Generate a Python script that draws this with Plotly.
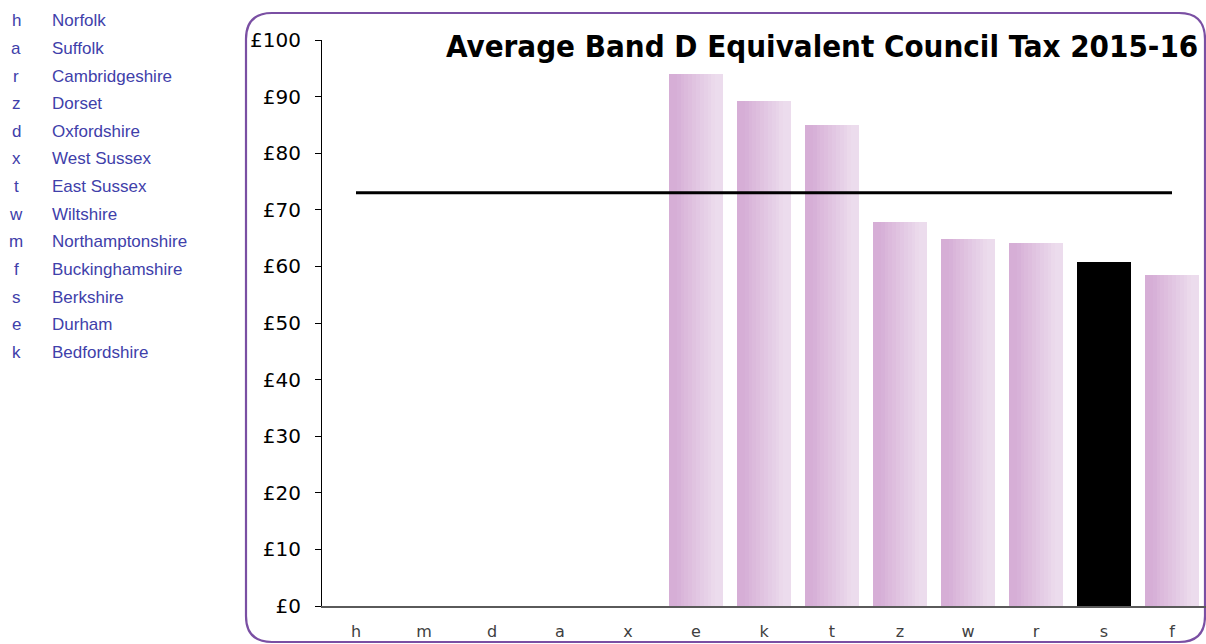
import plotly.graph_objects as go

# ---------------- data ----------------
codes = ["h", "a", "r", "z", "d", "x", "t", "w", "m", "f", "s", "e", "k"]
counties = ["Norfolk", "Suffolk", "Cambridgeshire", "Dorset", "Oxfordshire",
            "West Sussex", "East Sussex", "Wiltshire", "Northamptonshire",
            "Buckinghamshire", "Berkshire", "Durham", "Bedfordshire"]

categories = ["h", "m", "d", "a", "x", "e", "k", "t", "z", "w", "r", "s", "f"]
values = [None, None, None, None, None, 94.0, 89.3, 85.0, 67.8, 64.8, 64.2, 60.8, 58.5]
average = 73.0
highlight = "s"
y_ticks = [0, 10, 20, 30, 40, 50, 60, 70, 80, 90, 100]
title_text = "Average Band D Equivalent Council Tax 2015-16"

# ---------------- layout geometry ----------------
W, H = 1206, 644
L, R, T, B = 322, 0, 40, 38
PW, PH = W - L - R, H - T - B


def px(xp):
    return (xp - L) / PW


def py(yp):
    return 1 - (yp - T) / PH


fig = go.Figure()

# gradient bars built from thin overlaid slices
bar_w = 0.79
n_slices = 14
c_left = (214, 174, 214)
c_right = (236, 220, 237)
for i in range(n_slices):
    t = i / (n_slices - 1)
    tt = min(1.0, max(0.0, (t - 0.1) / 0.8))
    c = tuple(round(c_left[k] + (c_right[k] - c_left[k]) * tt) for k in range(3))
    col = "rgb(%d,%d,%d)" % c
    colors = ["#000000" if cat == highlight else col for cat in categories]
    sw = bar_w / n_slices
    fig.add_trace(go.Bar(
        x=categories, y=values,
        width=sw * 1.15 if i < n_slices - 1 else sw,
        offset=-bar_w / 2 + i * sw,
        marker=dict(color=colors, line=dict(width=0)),
        showlegend=False, hoverinfo="skip",
    ))

# average line
fig.add_trace(go.Scatter(
    x=[categories[0], categories[-1]], y=[average, average],
    mode="lines", line=dict(color="#000000", width=3),
    showlegend=False, hoverinfo="skip",
))

# rounded purple frame
x0, x1 = px(246), px(1205)
y0, y1 = py(13), py(642)
rx = 26 / PW
ry = 26 / PH
path = (f"M {x0+rx},{y0} L {x1-rx},{y0} Q {x1},{y0} {x1},{y0-ry} "
        f"L {x1},{y1+ry} Q {x1},{y1} {x1-rx},{y1} L {x0+rx},{y1} "
        f"Q {x0},{y1} {x0},{y1+ry} L {x0},{y0-ry} Q {x0},{y0} {x0+rx},{y0} Z")
fig.add_shape(type="path", path=path, xref="paper", yref="paper",
              line=dict(color="#7a4fa3", width=2.2), layer="below")

annotations = []
# title
annotations.append(dict(
    text="<b>%s</b>" % title_text, xref="paper", yref="paper",
    x=px(1200), y=py(46), xanchor="right", yanchor="middle", showarrow=False,
    font=dict(family="DejaVu Sans Condensed, DejaVu Sans", size=31, color="#000000"),
))
# key on the left
key_color = "#4040aa"
for i, (c, n) in enumerate(zip(codes, counties)):
    yy = py(21 + i * 27.6)
    annotations.append(dict(
        text=c, xref="paper", yref="paper", x=px(16), y=yy,
        xanchor="center", yanchor="middle", showarrow=False,
        font=dict(family="Liberation Sans", size=17, color=key_color),
    ))
    annotations.append(dict(
        text=n, xref="paper", yref="paper", x=px(50), y=yy,
        xanchor="left", yanchor="middle", showarrow=False,
        font=dict(family="Liberation Sans", size=17, color=key_color),
    ))

fig.update_layout(
    width=W, height=H,
    margin=dict(l=L, r=R, t=T, b=B, pad=0),
    paper_bgcolor="#ffffff", plot_bgcolor="#ffffff",
    barmode="overlay", bargap=0,
    annotations=annotations,
    showlegend=False,
    xaxis=dict(
        type="category", categoryorder="array", categoryarray=categories,
        range=[-0.5, 12.5], showgrid=False, zeroline=False,
        showline=True, linecolor="#5a5a5a", linewidth=2,
        ticks="", tickfont=dict(family="DejaVu Sans", size=16, color="#404040"),
        ticklabelstandoff=10, fixedrange=True,
    ),
    yaxis=dict(
        range=[0, 100], tickvals=y_ticks, ticktext=["£%d" % v for v in y_ticks],
        showgrid=False, zeroline=False, showline=True, linecolor="#000000",
        linewidth=1, ticks="outside", ticklen=6, tickcolor="#000000",
        tickfont=dict(family="DejaVu Sans", size=20, color="#000000"),
        ticklabelstandoff=10, fixedrange=True,
    ),
)

fig.write_html("out.html", config={"displayModeBar": False},
               post_script="document.body.style.margin='0';document.body.style.overflow='hidden';")
